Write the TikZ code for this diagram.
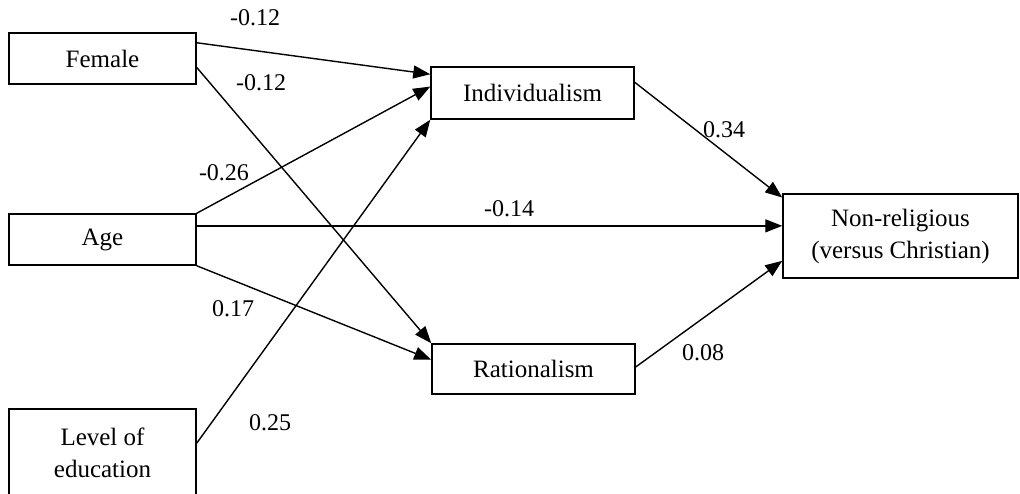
\documentclass[tikz,border=0pt]{standalone}
\usepackage{fontspec}
\setmainfont{Liberation Serif}
\usetikzlibrary{positioning,arrows.meta,calc}

\begin{document}
\begin{tikzpicture}[
  x=0.5pt, y=-0.5pt,
  font=\fontsize{12.5}{16}\selectfont,
  var/.style={draw, line width=0.75pt, align=center, inner sep=0pt},
  effect/.style={-{Triangle[length=8.5pt, width=6.5pt]}, line width=0.7pt},
  coef/.style={font=\fontsize{12}{14}\selectfont, inner sep=1pt},
  ]
  \clip (0,0) rectangle (1020,493);

  % Predictors.
  \node[var, minimum width=93.5pt, minimum height=25.5pt] (fem) at (102.5,58.5) {Female};
  \node[var, minimum width=93.5pt, minimum height=25.5pt] (age) at (102.5,239.5) {Age};
  \node[var, minimum width=93.5pt, minimum height=44pt] (edu) at (102.5,453) {Level of\\education};

  % Mediators and outcome.
  \node[var, minimum width=101.5pt, minimum height=26pt] (ind) at (532.5,93) {Individualism};
  \node[var, minimum width=101.5pt, minimum height=25pt] (rat) at (533.5,369) {Rationalism};
  \node[var, minimum width=117.5pt, minimum height=42pt] (non) at (900.5,236) {Non-religious\\(versus Christian)};

  % Paths.
  \draw[effect] ($(fem.north east)!0.2!(fem.south east)$) -- ($(ind.north west)!0.15!(ind.south west)$);
  \draw[effect] ($(fem.north east)!0.67!(fem.south east)$) -- (rat.north west);
  \draw[effect] (age.north east) -- ($(ind.north west)!0.38!(ind.south west)$);
  \draw[effect] ($(age.north east)!0.24!(age.south east)$) coordinate (agemid) -- (agemid -| non.west);
  \draw[effect] (age.south east) -- ($(rat.north west)!0.32!(rat.south west)$);
  \draw[effect] ($(edu.north east)!0.39!(edu.south east)$) -- (ind.south west);
  \draw[effect] ($(ind.north east)!0.3!(ind.south east)$) -- ($(non.north west)!0.05!(non.south west)$);
  \draw[effect] ($(rat.north east)!0.46!(rat.south east)$) -- ($(non.north west)!0.79!(non.south west)$);

  % Coefficients.
  \node[coef] (cfi) at (255,18) {-0.12};
  \node[coef] (cfr) at (261,83) {-0.12};
  \node[coef] (cai) at (224,173) {-0.26};
  \node[coef] (can) at (509,209) {-0.14};
  \node[coef] (car) at (233,309) {0.17};
  \node[coef] (cei) at (270,423) {0.25};
  \node[coef] (cin) at (724,130) {0.34};
  \node[coef] (crn) at (703,353) {0.08};
\end{tikzpicture}
\end{document}
